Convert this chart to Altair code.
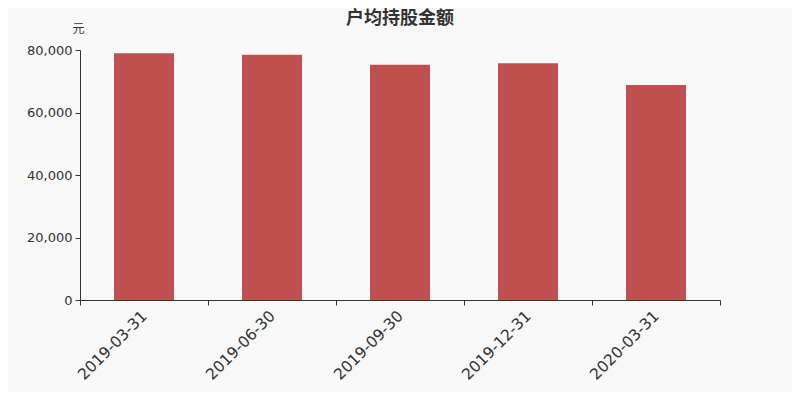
import altair as alt
import pandas as pd

dates = ["2019-03-31", "2019-06-30", "2019-09-30", "2019-12-31", "2020-03-31"]
values = [79000, 78500, 75300, 75800, 68800]

df = pd.DataFrame({"date": dates, "value": values})

FONT = "DejaVu Sans, Noto Sans CJK SC, sans-serif"

chart = alt.Chart(df).mark_bar(color="#c0504d", width=60).encode(
    x=alt.X("date:N", sort=dates,
            scale=alt.Scale(paddingInner=0, paddingOuter=0),
            axis=alt.Axis(title=None, labelAngle=-45, labelAlign="right",
                          labelBaseline="middle", labelPadding=8, labelFontSize=15.5,
                          labelColor="#333333", domainColor="#333333",
                          tickColor="#333333", tickSize=5, tickBand="extent",
                          labelFont=FONT)),
    y=alt.Y("value:Q", scale=alt.Scale(domain=[0, 80000], nice=False),
            axis=alt.Axis(title="元", titleAngle=0, titleX=-2, titleY=-22,
                          titleAlign="center", titleBaseline="middle",
                          titleFontWeight="normal", titleFontSize=12,
                          titleColor="#333333", titleFont=FONT,
                          values=[0, 20000, 40000, 60000, 80000], format=",d",
                          grid=False, labelFontSize=13, labelColor="#333333",
                          labelPadding=3, labelFont=FONT,
                          domainColor="#333333", tickColor="#333333", tickSize=5)),
).properties(
    width=640, height=250,
    title=alt.TitleParams("户均持股金额", fontSize=18, fontWeight="bold",
                          color="#333333", font=FONT, anchor="middle", offset=2,
                          dy=8),
    background="#f8f8f8",
    autosize=alt.AutoSizeParams(type="none"),
    padding={"left": 72, "top": 42, "right": 72, "bottom": 92},
).configure_view(stroke=None)

chart.save("out.html", embed_options={"renderer": "svg", "actions": False})
